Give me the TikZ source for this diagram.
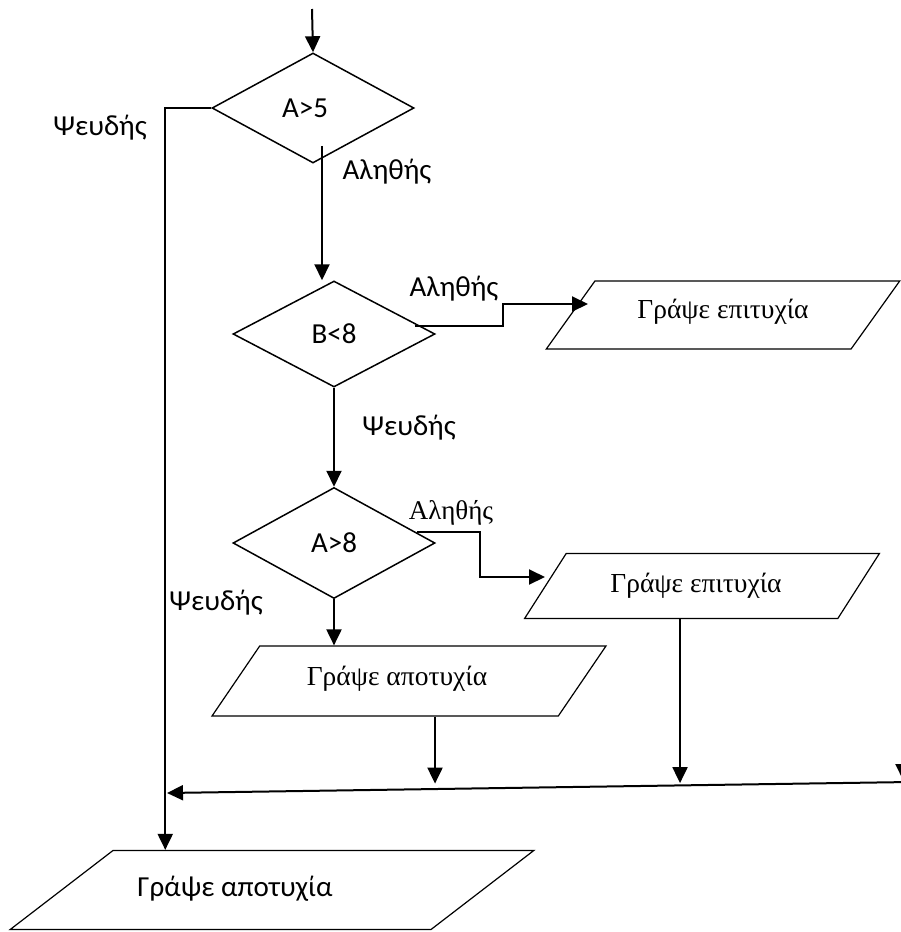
\documentclass[tikz,border=0pt]{standalone}
\usepackage{fontspec}
\setmainfont{Liberation Serif}
\setsansfont{Carlito}
\usetikzlibrary{shapes.geometric, arrows.meta, positioning, calc}

\begin{document}
\begin{tikzpicture}[
        x=1pt, y=-1pt,
        % Styles for the blocks
        decision/.style={
            diamond,
            draw,
            line width=1.5pt,
            inner sep=0pt,
            minimum width=202,
            minimum height=110,
            font=\sffamily\fontsize{29}{32}\selectfont
        },
        io/.style={
            trapezium,
            draw,
            line width=1.2pt,
            trapezium stretches=true,
            inner sep=0pt,
            font=\rmfamily\fontsize{27.5}{30}\selectfont
        },
        arrow/.style={
            -{Triangle[length=16pt,width=15pt]},
            line width=2pt
        },
        label_text/.style={
            inner sep=0pt,
            font=\sffamily\fontsize{29}{32}\selectfont
        }
    ]
    \useasboundingbox (0,0) rectangle (900,932);

    % --- 1. NODES ---

    % Decisions
    \node[decision] (a5) at (313,108) {\raisebox{-4pt}{A>5}\hspace*{16pt}};
    \node[decision, minimum height=106] (b8) at (334,334) {\raisebox{-5pt}{B<8}};
    \node[decision, minimum height=111] (a8) at (334,543) {\raisebox{-5pt}{A>8}};

    % Outputs
    \node[io, trapezium left angle=44, trapezium right angle=136,
          minimum width=354, minimum height=68] (succ1) at (723,315) {\raisebox{12pt}{Γράψε επιτυχία}};
    \node[io, trapezium left angle=42, trapezium right angle=138,
          minimum width=356, minimum height=65] (succ2) at (702,586) {Γράψε επιτυχία\hspace*{12pt}};
    \node[io, trapezium left angle=42, trapezium right angle=138,
          minimum width=394, minimum height=70] (fail1) at (409,681) {\raisebox{10pt}{Γράψε αποτυχία}\hspace*{24pt}};
    \node[io, trapezium left angle=36, trapezium right angle=144,
          minimum width=525, minimum height=79, font=\sffamily\fontsize{29}{32}\selectfont]
          (fail2) at (272,890) {\raisebox{8pt}{\hspace*{-74pt}Γράψε αποτυχία}};

    % Labels
    \node[label_text] (f1) at (100,128) {Ψευδής};
    \node[label_text] (t1) at (387,172) {Αληθής};
    \node[label_text] (t2) at (454,289) {Αληθής};
    \node[label_text] (f2) at (409,428) {Ψευδής};
    \node[label_text, font=\rmfamily\fontsize{27}{30}\selectfont] (t3) at (451,513) {Αληθής};
    \node[label_text] (f3) at (216,603) {Ψευδής};

    % Free ends
    \coordinate (start) at (312,9);
    \coordinate (join) at (167,793);
    \coordinate (mergeR) at (910,782);
    \coordinate (edge) at (903,700);

    % --- 2. EDGES ---

    \draw[arrow] (start) -- (a5.north);

    % A>5 false
    \draw[arrow] (a5.west) -- ++(-46,0) coordinate (fl) -- (fl |- fail2.north);

    % A>5 true
    \draw[arrow] ([shift={(9,-18)}]a5.south) -- ([xshift=-12]b8.north);

    % B<8 true
    \draw[arrow] ([shift={(-21,-8)}]b8.east) -- ++(88,0) -- ++(0,-22)
        -- ([shift={(-135,-11)}]succ1.center);

    % B<8 false
    \draw[arrow] (b8.south) -- (a8.north);

    % A>8 true
    \draw[arrow] ([shift={(-19,-11)}]a8.east) -- ++(63,0) -- ++(0,45)
        -- ([shift={(-157,-9)}]succ2.center);

    % A>8 false
    \draw[arrow] (a8.south) -- (a8.south |- fail1.north);

    % Into the join line
    \draw[arrow] ([xshift=26]fail1.south) -- ++(0,67);
    \draw[arrow] ([xshift=-22]succ2.south) -- ++(0,164);
    \draw[arrow] (edge) -- ++(0,80);
    \draw[arrow] (mergeR) -- (join);

\end{tikzpicture}
\end{document}
